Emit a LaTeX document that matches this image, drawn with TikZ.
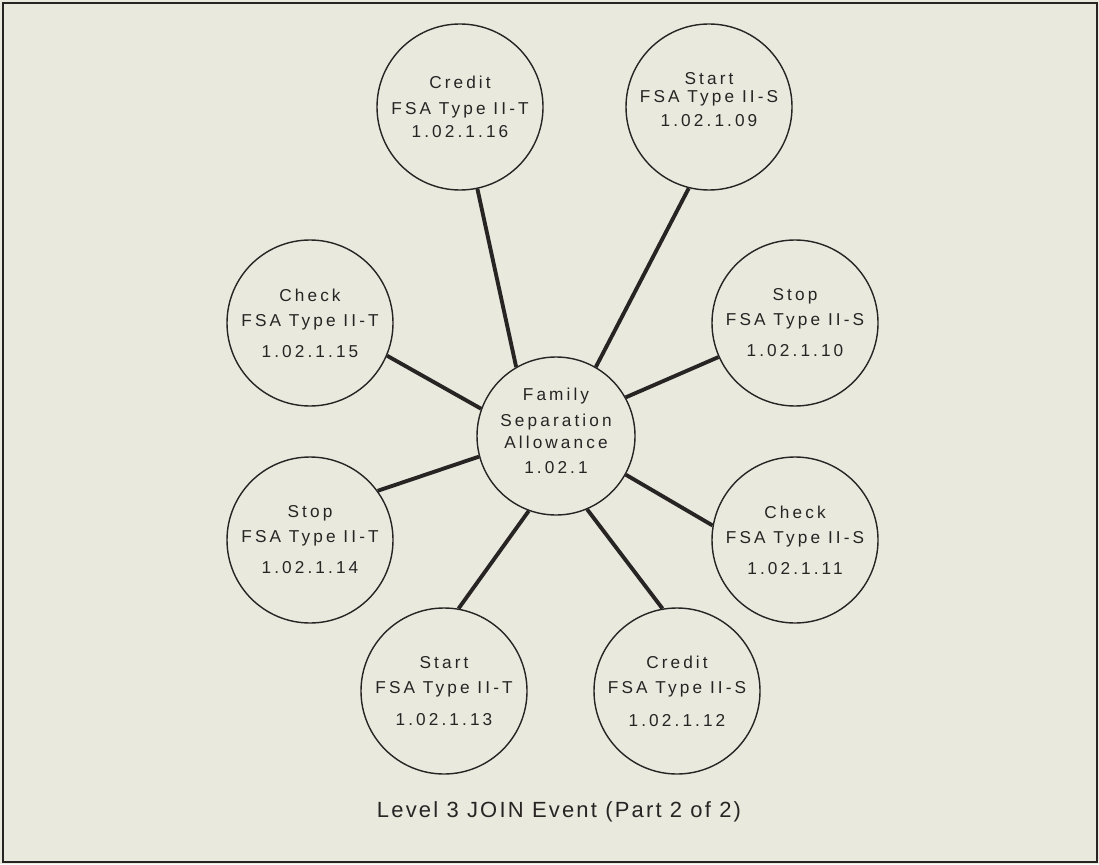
\documentclass[tikz,border=0pt]{standalone}
\usepackage{fontspec}
\setmainfont{Liberation Sans}
\newfontfamily\bubblefont{Liberation Sans}[LetterSpace=18]
\newfontfamily\captionfont{Liberation Sans}[LetterSpace=10]
\definecolor{paper}{RGB}{233,233,222}
\definecolor{ink}{RGB}{40,36,36}
\begin{document}
\begin{tikzpicture}[
  bubble/.style={circle,draw=ink,line width=0.8pt,minimum size=3.32cm,inner sep=0pt,
    align=center,text=ink,font=\bubblefont\fontsize{9.8}{13.66}\selectfont},
  spoke/.style={draw=ink,line width=2.2pt}]
\fill[paper] (0,0) rectangle (21.98,17.28);
\draw[ink,line width=1.4pt] (0.06,0.04) rectangle (21.94,17.22);
% centre and the eight events
\node[bubble,minimum size=3.16cm] (hub) at (11.12,8.56) {Family\\[0.6pt]Separation\\[-1pt]Allowance\\[0.6pt]1.02.1\\[-7.9pt]\mbox{}};
\node[bubble] (credT) at (9.20,15.14) {Credit\\[1pt]FSA Type II-T\\[-0.5pt]1.02.1.16};
\node[bubble] (startS) at (14.18,15.14) {Start\\[-3.4pt]FSA Type II-S\\1.02.1.09\\[-5.66pt]\mbox{}};
\node[bubble] (checkT) at (6.20,10.82) {Check\\[0.6pt]FSA Type II-T\\[4pt]1.02.1.15};
\node[bubble] (stopS) at (15.90,10.82) {Stop\\[0.6pt]FSA Type II-S\\[4pt]1.02.1.10};
\node[bubble] (stopT) at (6.20,6.48) {Stop\\[0.6pt]FSA Type II-T\\[4pt]1.02.1.14};
\node[bubble] (checkS) at (15.90,6.48) {Check\\[0.6pt]FSA Type II-S\\[4pt]1.02.1.11};
\node[bubble] (startT) at (8.88,3.46) {Start\\[0.6pt]FSA Type II-T\\[5pt]1.02.1.13};
\node[bubble] (creditS) at (13.54,3.46) {Credit\\[0.6pt]FSA Type II-S\\[5pt]1.02.1.12};
\node[text=ink,font=\captionfont\fontsize{12.5}{15}\selectfont] (caption) at (11.18,1.04) {Level 3 JOIN Event (Part 2 of 2)};
% spokes
\foreach \a/\n/\b in {120/credT/-78,60/startS/-104,29/stopS/204,-29/checkS/170,
    -67/creditS/100,-110/startT/80,-165/stopT/36,160/checkT/-23}
  \draw[spoke] (hub.\a) -- (\n.\b);
\end{tikzpicture}
\end{document}
